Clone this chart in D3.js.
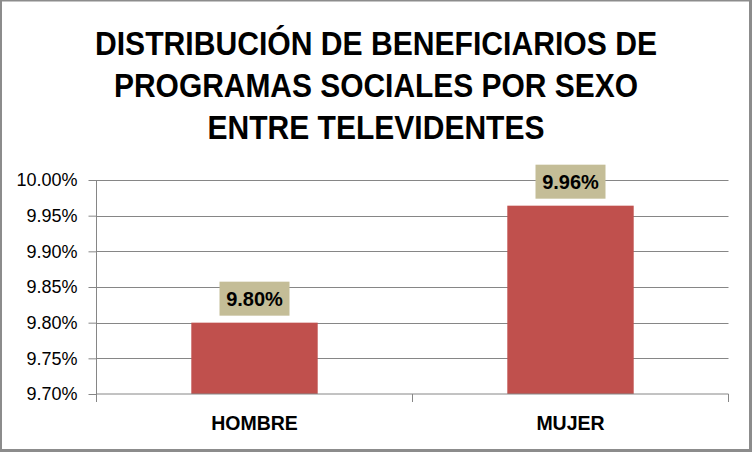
<!DOCTYPE html>
<html>
<head>
<meta charset="utf-8">
<script src="https://cdn.jsdelivr.net/npm/d3@7"></script>
<style>
  body { margin: 0; background: #fff; }
  svg { display: block; }
</style>
</head>
<body>
<div id="chart-area"></div>
<script>
// chart data
const categories = ['HOMBRE', 'MUJER'];
const values = [9.80, 9.964];
const valueLabels = ['9.80%', '9.96%'];
const yTicks = [9.70, 9.75, 9.80, 9.85, 9.90, 9.95, 10.00];
const titleLines = [
  'DISTRIBUCIÓN DE BENEFICIARIOS DE',
  'PROGRAMAS SOCIALES POR SEXO',
  'ENTRE TELEVIDENTES'
];
// widths of the title lines as seen in the picture
const titleWidths = [562, 524, 337];

const W = 752, H = 452;
const margins = { left: 96.5, right: 23.5, top: 180, bottom: 58 };
const width = W - margins.left - margins.right;
const height = H - margins.top - margins.bottom;
const font = '"Liberation Sans", Arial, sans-serif';

const svg = d3.select('#chart-area')
  .append('svg')
  .attr('width', W)
  .attr('height', H);

// outer border
svg.append('rect')
  .attr('x', 0.5).attr('y', 0)
  .attr('width', 750).attr('height', 450.5)
  .attr('fill', '#fff')
  .attr('stroke', '#8c8c8c')
  .attr('stroke-width', 3);

// title
svg.append('g').selectAll('text')
  .data(titleLines)
  .enter().append('text')
  .attr('x', 376)
  .attr('y', (d, i) => 55 + i * 42)
  .attr('text-anchor', 'middle')
  .attr('font-family', font)
  .attr('font-weight', 'bold')
  .attr('font-size', '34px')
  .attr('textLength', (d, i) => titleWidths[i])
  .attr('lengthAdjust', 'spacingAndGlyphs')
  .attr('fill', '#000')
  .text(d => d);

const g = svg.append('g')
  .attr('transform', 'translate(' + margins.left + ', ' + margins.top + ')');

const x = d3.scaleBand()
  .domain(categories)
  .range([0, width])
  .paddingInner(0.6)
  .paddingOuter(0.3);

const y = d3.scaleLinear()
  .domain([9.70, 10.00])
  .range([height, 0]);

// gridlines
g.append('g').selectAll('line')
  .data(yTicks.slice(1))
  .enter().append('line')
  .attr('x1', 0).attr('x2', width)
  .attr('y1', d => Math.round(y(d)) + 0.5)
  .attr('y2', d => Math.round(y(d)) + 0.5)
  .attr('stroke', '#868686')
  .attr('stroke-width', 1);

// bars
g.selectAll('rect.bar')
  .data(values)
  .enter().append('rect')
  .attr('class', 'bar')
  .attr('x', (d, i) => x(categories[i]))
  .attr('y', d => y(d))
  .attr('width', x.bandwidth())
  .attr('height', d => height - y(d))
  .attr('fill', '#C0504D');

// y axis
const yAxis = d3.axisLeft(y)
  .tickValues(yTicks)
  .tickSize(8)
  .tickPadding(11)
  .tickFormat(d => d.toFixed(2) + '%');

const yG = g.append('g').call(yAxis);
yG.select('.domain').attr('stroke', '#868686').attr('d', 'M0,0V' + height);
yG.selectAll('.tick line').attr('stroke', '#868686');
yG.selectAll('.tick text')
  .attr('font-family', font)
  .attr('font-size', '18px')
  .attr('fill', '#000');

// x axis
const xAxis = d3.axisBottom(x).tickSize(0).tickPadding(22);
const xG = g.append('g')
  .attr('transform', 'translate(0, ' + height + ')')
  .call(xAxis);
xG.select('.domain').attr('stroke', '#868686').attr('d', 'M0,0H' + width);
xG.selectAll('.tick text')
  .attr('font-family', font)
  .attr('font-weight', 'bold')
  .attr('font-size', '19.5px')
  .attr('fill', '#000');

// category separators on the x axis
xG.selectAll('line.sep')
  .data([0, (x(categories[0]) + x(categories[1]) + x.bandwidth()) / 2, width])
  .enter().append('line')
  .attr('class', 'sep')
  .attr('x1', d => d).attr('x2', d => d)
  .attr('y1', 0).attr('y2', 8)
  .attr('stroke', '#868686');

// value labels
const labels = g.selectAll('g.label')
  .data(values)
  .enter().append('g')
  .attr('class', 'label')
  .attr('transform', (d, i) =>
    'translate(' + (x(categories[i]) + x.bandwidth() / 2) + ', ' + (y(d) - 24) + ')');

labels.append('rect')
  .attr('x', -35).attr('y', -17)
  .attr('width', 70).attr('height', 34)
  .attr('fill', '#C4BD97');

labels.append('text')
  .attr('text-anchor', 'middle')
  .attr('dy', '0.36em')
  .attr('font-family', font)
  .attr('font-weight', 'bold')
  .attr('font-size', '20px')
  .attr('fill', '#000')
  .text((d, i) => valueLabels[i]);
</script>
</body>
</html>
